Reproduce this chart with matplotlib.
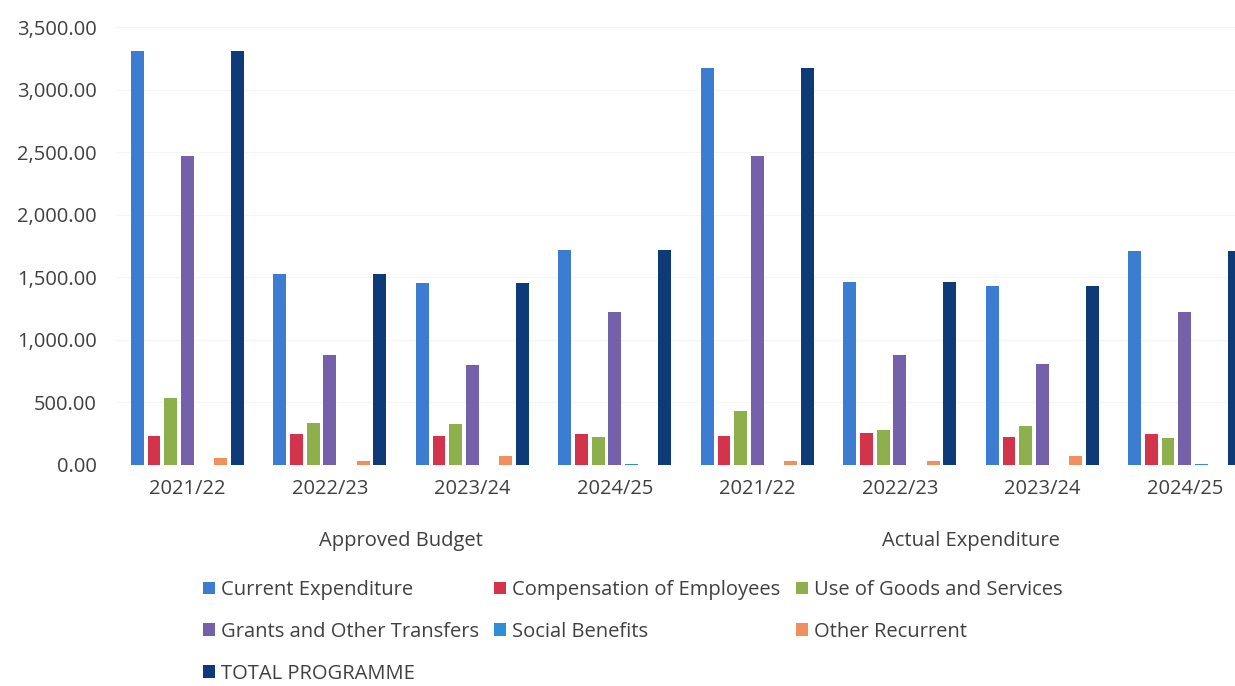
import matplotlib.pyplot as plt
import numpy as np
from matplotlib.ticker import FuncFormatter
from matplotlib.transforms import blended_transform_factory

# category levels
years = ["2021/22", "2022/23", "2023/24", "2024/25"]
phases = ["Approved Budget", "Actual Expenditure"]

# one value per (phase, year) group, in order
current_expenditure = [3312, 1528, 1456, 1720, 3176, 1464, 1432, 1712]
compensation = [232, 248, 232, 248, 232, 256, 224, 248]
goods_services = [536, 336, 328, 224, 432, 280, 312, 216]
grants_transfers = [2472, 880, 800, 1224, 2472, 880, 808, 1224]
social_benefits = [0, 0, 0, 8, 0, 0, 0, 8]
other_recurrent = [56, 32, 72, 0, 32, 32, 72, 0]
total_programme = [3312, 1528, 1456, 1720, 3176, 1464, 1432, 1712]

series = [
    ("Current Expenditure", current_expenditure, "#3C7DD2"),
    ("Compensation of Employees", compensation, "#D2344B"),
    ("Use of Goods and Services", goods_services, "#8EB04C"),
    ("Grants and Other Transfers", grants_transfers, "#7461A9"),
    ("Social Benefits", social_benefits, "#2F8FD6"),
    ("Other Recurrent", other_recurrent, "#F0905E"),
    ("TOTAL PROGRAMME", total_programme, "#0E3A78"),
]

plt.rcParams["font.family"] = ["Open Sans", "DejaVu Sans"]
text_color = "#404040"

fig = plt.figure(figsize=(12.35, 6.86), dpi=100)
# plot area runs past the right edge, like the cropped original
ax = fig.add_axes([0.094, 0.3222, 0.923, 0.6384])

n_groups = len(current_expenditure)
x = np.arange(n_groups)
slot = 0.117
width = 0.09
handles = {}
for i, (name, vals, color) in enumerate(series):
    offs = (i - (len(series) - 1) / 2) * slot
    handles[name] = ax.bar(x + offs, vals, width=width, color=color, label=name)

ax.set_xlim(-0.5, n_groups - 0.5)
ax.set_ylim(0, 3500)
ax.set_yticks(np.arange(0, 3501, 500))
ax.yaxis.set_major_formatter(FuncFormatter(lambda v, _: f"{v:,.2f}"))
ax.set_xticks(x)
ax.set_xticklabels(years * len(phases))
ax.tick_params(axis="both", length=0, labelsize=14.5, colors=text_color)
ax.tick_params(axis="x", pad=10)
ax.tick_params(axis="y", pad=14)
ax.grid(axis="y", color="#F5F5F5", linewidth=0.8)
ax.set_axisbelow(True)
for spine in ax.spines.values():
    spine.set_visible(False)

trans = blended_transform_factory(ax.transData, fig.transFigure)
for k, phase in enumerate(phases):
    center = k * len(years) + (len(years) - 1) / 2
    ax.text(center, 1 - 541 / 686, phase, transform=trans, ha="center",
            va="center", fontsize=14.5, color=text_color)

order = ["Current Expenditure", "Grants and Other Transfers", "TOTAL PROGRAMME",
         "Compensation of Employees", "Social Benefits",
         "Use of Goods and Services", "Other Recurrent"]
leg = fig.legend([handles[n] for n in order], order, ncol=3, loc="upper left",
                 bbox_to_anchor=(0.156, 0.169), frameon=False, fontsize=14.5,
                 handlelength=0.6, handleheight=0.6, handletextpad=0.3,
                 columnspacing=0.75, labelspacing=1.08, borderpad=0)
for t in leg.get_texts():
    t.set_color(text_color)

fig.savefig("out.png", dpi=100, facecolor="white")
